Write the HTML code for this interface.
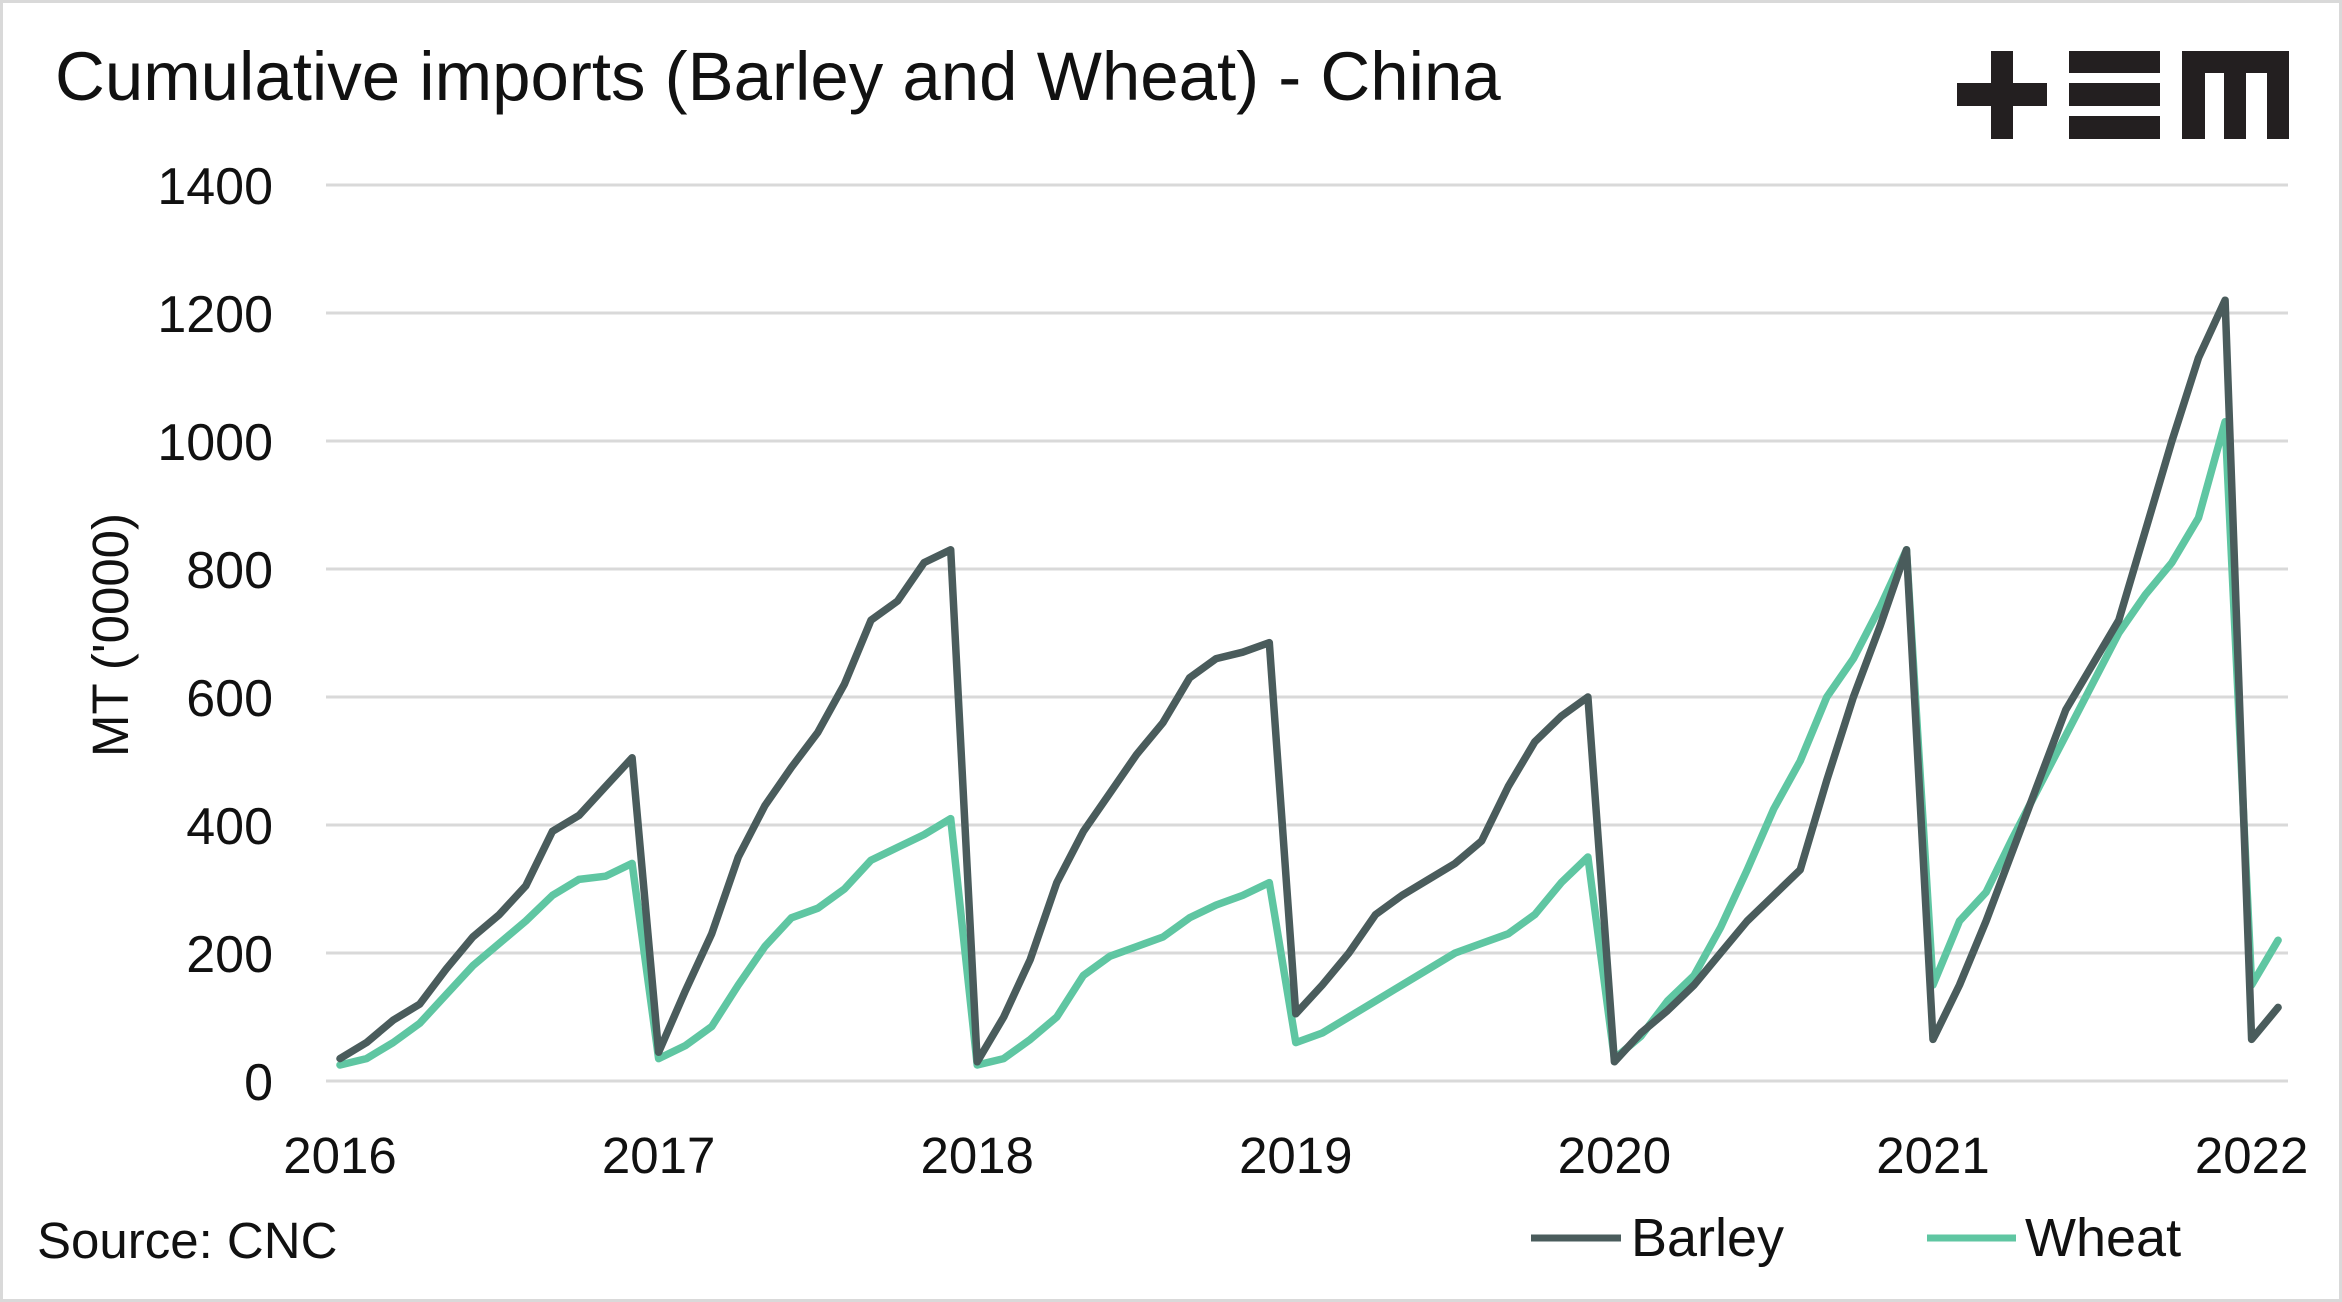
<!DOCTYPE html>
<html><head><meta charset="utf-8"><style>
html,body{margin:0;padding:0;background:#fff;}
svg{display:block;font-family:"Liberation Sans",Arial,sans-serif;}
</style></head><body>
<svg id="chart" width="2342" height="1302" viewBox="0 0 2342 1302" xmlns="http://www.w3.org/2000/svg">
<rect x="1.5" y="1.5" width="2339" height="1299" fill="#fff" stroke="#d9d9d9" stroke-width="3"/>
<text x="55" y="100" font-size="69" fill="#111">Cumulative imports (Barley and Wheat) - China</text>
<g fill="#231f20">
<rect x="1991" y="51" width="22" height="88"/><rect x="1957" y="83" width="90" height="23"/>
<rect x="2069" y="51" width="91" height="22"/><rect x="2069" y="83" width="91" height="23"/><rect x="2069" y="116" width="91" height="23"/>
<rect x="2182" y="51" width="107" height="22"/><rect x="2182" y="51" width="23" height="88"/><rect x="2224" y="51" width="22" height="88"/><rect x="2267" y="51" width="22" height="88"/>
</g>
<g id="grid"></g><g id="ylabels"></g><g id="xlabels"></g><g id="series"></g>
<text transform="translate(128,635) rotate(-90)" text-anchor="middle" font-size="51" fill="#111">MT ('0000)</text>
<text x="37" y="1258" font-size="51" fill="#111">Source: CNC</text>
<g>
<g><line x1="1531" y1="1238" x2="1621" y2="1238" stroke="#4a5c5c" stroke-width="7"/><text x="1631" y="1256" font-size="54" fill="#111">Barley</text></g>
<g><line x1="1927" y1="1238" x2="2016" y2="1238" stroke="#5fc6a2" stroke-width="7"/><text x="2025" y="1256" font-size="54" fill="#111">Wheat</text></g>
</g>
</svg>
<script>
const yTicks=[0,200,400,600,800,1000,1200,1400];
const xTicks=[2016,2017,2018,2019,2020,2021,2022];
const barley=[35,60,95,120,175,225,260,305,390,415,460,505,
45,140,230,350,430,490,545,620,720,750,810,830,
30,100,190,310,390,450,510,560,630,660,670,685,
105,150,200,260,290,315,340,375,460,530,570,600,
30,75,110,150,200,250,290,330,470,600,710,830,
65,150,250,360,470,580,650,720,860,1000,1130,1220,
65,115];
const wheat=[25,35,60,90,135,180,215,250,290,315,320,340,
35,55,85,150,210,255,270,300,345,365,385,410,
25,35,65,100,165,195,210,225,255,275,290,310,
60,75,100,125,150,175,200,215,230,260,310,350,
35,70,125,165,240,330,425,500,600,660,740,830,
150,250,295,380,460,540,620,700,760,810,880,1030,
150,220];
const NS="http://www.w3.org/2000/svg";
const y=v=>1081-v*0.64;
const x=t=>340+(t-2016)*318.6;
const mk=(tag,attrs,parent)=>{const e=document.createElementNS(NS,tag);for(const k in attrs)e.setAttribute(k,attrs[k]);parent.appendChild(e);return e;};
const grid=document.getElementById('grid'),yl=document.getElementById('ylabels'),xl=document.getElementById('xlabels'),ser=document.getElementById('series');
yTicks.forEach(v=>{
 const l=mk('line',{x1:326,x2:2288,y1:y(v),y2:y(v),stroke:'#d9d9d9','stroke-width':3},grid);
 
 
 const t=mk('text',{x:273,y:y(v)+19,'text-anchor':'end','font-size':52,fill:'#111'},yl);
 t.textContent=v;
 
 
});
xTicks.forEach(v=>{
 const t=mk('text',{x:x(v),y:1173,'text-anchor':'middle','font-size':51,fill:'#111'},xl);
 t.textContent=v;
 
 
});
function line(data,color,name){
 const pts=data.map((v,i)=>x(2016+i/12).toFixed(1)+','+y(v).toFixed(1)).join(' ');
 const p=mk('polyline',{points:pts,fill:'none',stroke:color,'stroke-width':7.5,'stroke-linejoin':'round','stroke-linecap':'round'},ser);
 
 
}
line(wheat,'#5fc6a2','wheat-line');
line(barley,'#4a5c5c','barley-line');
</script>
</body></html>
